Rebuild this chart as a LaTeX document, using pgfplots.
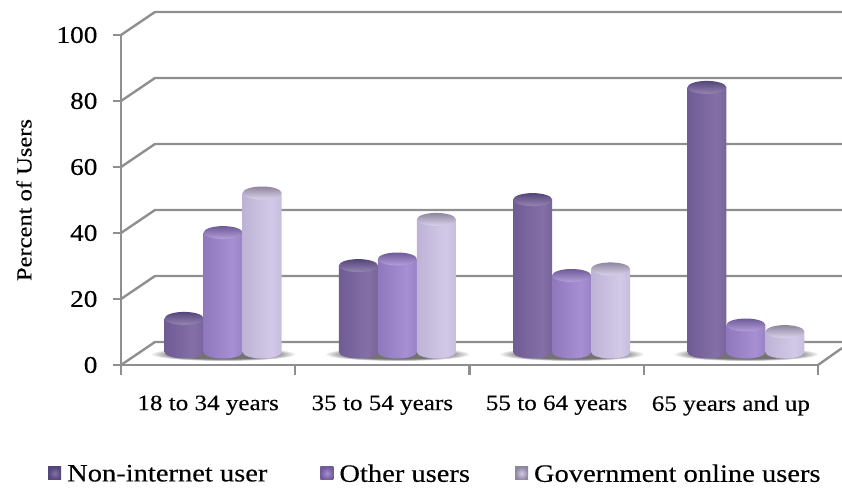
\documentclass[border=0pt]{standalone}
\usepackage{fontspec}
\setmainfont[FakeStretch=1.14,FakeBold=0.25]{Liberation Serif}
\usepackage{pgfplots}
\pgfplotsset{compat=1.18}

\definecolor{wallgray}{HTML}{8F8F8F}

% Palette of the three series: rim, mid, highlight, shaded side
\definecolor{a0}{HTML}{54457A}\definecolor{a1}{HTML}{6F5C95}\definecolor{a2}{HTML}{8470A6}\definecolor{a3}{HTML}{5E4E80}
\definecolor{b0}{HTML}{6F5A9A}\definecolor{b1}{HTML}{8F78BC}\definecolor{b2}{HTML}{A78FD4}\definecolor{b3}{HTML}{7D68A6}
\definecolor{c0}{HTML}{9C92B2}\definecolor{c1}{HTML}{BEB3D6}\definecolor{c2}{HTML}{D2C9E8}\definecolor{c3}{HTML}{8F869E}
\pgfdeclarehorizontalshading{cylbodyA}{100bp}{color(0bp)=(a0); color(25bp)=(a1); color(62bp)=(a2); color(85bp)=(a1); color(100bp)=(a3)}
\pgfdeclarehorizontalshading{cylbodyB}{100bp}{color(0bp)=(b0); color(25bp)=(b1); color(62bp)=(b2); color(85bp)=(b1); color(100bp)=(b3)}
\pgfdeclarehorizontalshading{cylbodyC}{100bp}{color(0bp)=(c0); color(25bp)=(c1); color(62bp)=(c2); color(85bp)=(c1); color(100bp)=(c3)}
\pgfdeclareradialshading{floorshadow}{\pgfpointorigin}{color(0bp)=(black!55); color(17bp)=(black!55); color(25bp)=(white); color(50bp)=(white)}

% One cylinder: the mark sits at the bar's value on the front plane.
% #2 sideways offset within the group, #3 body shading, #4/#5 top ellipse colours
\newcommand{\cylindermark}[5]{%
  \pgfdeclareplotmark{#1}{%
    \pgfmathsetmacro{\cylbase}{13-\barval*3.3}%
    \shade[draw=none,shading=#3] (#2-19.5pt,7pt) -- (#2+19.5pt,7pt) -- (#2+19.5pt,\cylbase pt)
      arc[start angle=0,end angle=-180,x radius=19.5pt,y radius=6.5pt] -- cycle;
    \shade[draw=none,top color=#4,bottom color=#5] (#2,7pt) ellipse[x radius=19.5pt,y radius=6.5pt];
  }}
\cylindermark{cylA}{-24pt}{cylbodyA}{a0}{a2!85!white}
\cylindermark{cylB}{15pt}{cylbodyB}{b0}{b2!85!white}
\cylindermark{cylC}{54pt}{cylbodyC}{c3}{c2!80!white}

\pgfdeclareplotmark{groupshadow}{%
  \shade[draw=none,shading=floorshadow] (15pt,11pt) ellipse[x radius=73pt,y radius=7pt];}

\pgfplotsset{
  wallline/.style={wallgray,line width=2.4pt,forget plot,no marks},
  cylinders/.style={scatter,only marks,mark=#1,
    scatter/use mapped color={draw=none,fill=none},
    visualization depends on={y \as \barval}},
  keybox/.style 2 args={legend image code/.code={
    \shade[draw=none,inner color=#2,outer color=#1] (0pt,-6pt) rectangle (13pt,7pt);}},
}

\begin{document}
\begin{tikzpicture}
\path[use as bounding box] (-121pt,-123pt) rectangle (721pt,365pt);
\begin{axis}[
  at={(0pt,0pt)},anchor=south west,
  scale only axis,width=697pt,height=330pt,
  xmin=-0.5,xmax=3.5,ymin=0,ymax=100,
  clip=false,
  axis lines=left,
  axis line style={wallgray,line width=2.4pt,-},
  every tick/.style={wallgray,line width=2.4pt},
  tick align=outside,
  major tick length=8pt,
  ytick={0,20,40,60,80,100},
  xtick={0,1,2,3},
  xticklabels={18 to 34 years,35 to 54 years,55 to 64 years,65 years and up},
  minor xtick={-0.5,0.5,1.5,2.5,3.5},
  minor tick length=10pt,
  x tick style={draw=none},
  minor x tick style={draw=wallgray,line width=2.4pt},
  tick label style={font=\fontsize{22}{26}\selectfont,black},
  yticklabel style={font=\fontsize{24}{28}\selectfont,xshift=-12pt},
  every x tick label/.append style={yshift=-19pt},
  /pgf/number format/assume math mode=true,
  ylabel={Percent of Users},
  ylabel style={font=\fontsize{21.5}{25}\selectfont,black,at={(axis description cs:0,0.5)},anchor=center,yshift=97pt},
  legend style={
    at={(0pt,-123pt)},anchor=south west,
    draw=none,fill=none,
    font=\fontsize{25}{29}\selectfont,
    legend columns=3,
    /tikz/every even column/.append style={column sep=47pt},
    /tikz/every odd column/.append style={column sep=4pt},
    xshift=-76pt,yshift=0.5pt,
  },
  legend cell align=left,
]
% back wall gridlines with their slanted side pieces
\addplot[wallline] coordinates {(-0.5,0) (-0.305,6.97) (3.638,6.97)};
\addplot[wallline] coordinates {(-0.5,20) (-0.305,26.97) (3.638,26.97)};
\addplot[wallline] coordinates {(-0.5,40) (-0.305,46.97) (3.638,46.97)};
\addplot[wallline] coordinates {(-0.5,60) (-0.305,66.97) (3.638,66.97)};
\addplot[wallline] coordinates {(-0.5,80) (-0.305,86.97) (3.638,86.97)};
\addplot[wallline] coordinates {(-0.5,100) (-0.305,106.97) (3.638,106.97)};
% right edge of the floor
\addplot[wallline] coordinates {(3.5,0) (3.638,5.15)};
% soft shadows under each group
\addplot[only marks,mark=groupshadow,forget plot] coordinates {(0,0) (1,0) (2,0) (3,0)};

\addplot[cylinders=cylA,keybox={a0}{a2}] coordinates {(0,12) (1,28) (2,48) (3,82)};
\addlegendentry{Non-internet user\hspace*{4pt}}
\addplot[cylinders=cylB,keybox={b0}{b2}] coordinates {(0,38) (1,30) (2,25) (3,10)};
\addlegendentry{Other users\hspace*{-4pt}}
\addplot[cylinders=cylC,keybox={c3}{c2}] coordinates {(0,50) (1,42) (2,27) (3,8)};
\addlegendentry{Government online users}
\end{axis}
\end{tikzpicture}
\end{document}
